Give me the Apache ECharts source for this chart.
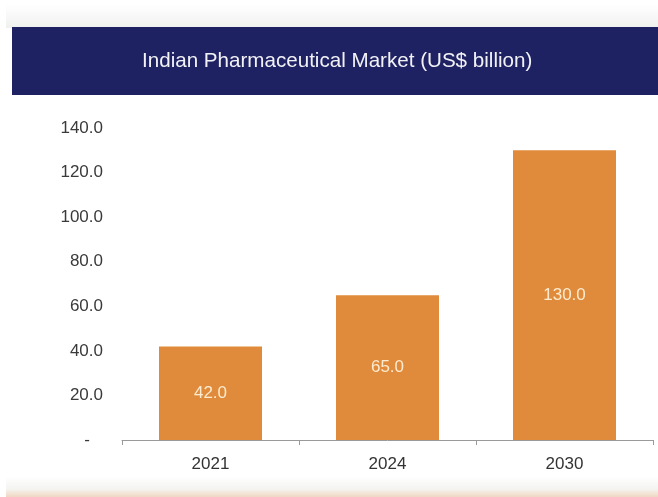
<!DOCTYPE html>
<html>
<head>
<meta charset="utf-8">
<script src="https://cdn.jsdelivr.net/npm/echarts@6/dist/echarts.min.js"></script>
<style>
  html, body { margin: 0; padding: 0; background: #ffffff; }
  #chart { width: 658px; height: 497px; }
</style>
</head>
<body>
<div id="chart"></div>
<script>
// Indian pharmaceutical market size by year
var chartTitle = 'Indian Pharmaceutical Market (US$ billion)';
var years = ['2021', '2024', '2030'];
var marketSize = [42.0, 65.0, 130.0];
var yTicks = [0, 20, 40, 60, 80, 100, 120, 140];

var chart = echarts.init(document.getElementById('chart'), null, { renderer: 'canvas' });

var option = {
  backgroundColor: '#ffffff',
  animation: false,
  graphic: [
    {
      type: 'rect', z: -1,
      shape: { x: 6, y: 4, width: 652, height: 24 },
      style: {
        fill: new echarts.graphic.LinearGradient(0, 0, 0, 1, [
          { offset: 0, color: '#ffffff' },
          { offset: 1, color: '#eff1ef' }
        ])
      }
    },
    {
      type: 'rect',
      shape: { x: 12, y: 27, width: 646, height: 68 },
      style: { fill: '#1f2262' }
    },
    {
      type: 'text',
      left: 142,
      top: 51,
      style: {
        text: chartTitle,
        fill: '#f2f2f6',
        font: '20.6px "Liberation Sans", Arial, sans-serif'
      }
    },
    {
      type: 'rect', z: -1,
      shape: { x: 6, y: 476, width: 652, height: 21 },
      style: {
        fill: new echarts.graphic.LinearGradient(0, 0, 0, 1, [
          { offset: 0, color: '#ffffff' },
          { offset: 0.6, color: '#f4f5f2' },
          { offset: 0.8, color: '#f3e6da' },
          { offset: 1, color: '#efd7c3' }
        ])
      }
    }
  ],
  grid: { left: 122, right: 5, top: 128, bottom: 57 },
  xAxis: {
    type: 'category',
    data: years,
    axisLine: { show: true, lineStyle: { color: '#9a9a9a', width: 1 } },
    axisTick: { show: true, alignWithLabel: false, length: 5, lineStyle: { color: '#9a9a9a' } },
    axisLabel: {
      color: '#333333', fontSize: 17, margin: 16,
      fontFamily: '"Liberation Sans", Arial, sans-serif'
    }
  },
  yAxis: {
    type: 'value',
    min: yTicks[0],
    max: yTicks[yTicks.length - 1],
    interval: 20,
    axisLine: { show: false },
    axisTick: { show: false },
    splitLine: { show: false },
    axisLabel: {
      color: '#3a3a3a', fontSize: 17, margin: 19,
      fontFamily: '"Liberation Sans", Arial, sans-serif',
      formatter: function (v) {
        return v === 0 ? '{z|-}' : v.toFixed(1);
      },
      rich: {
        z: { fontSize: 17, color: '#3a3a3a', padding: [0, 13, 0, 0] }
      }
    }
  },
  series: [{
    type: 'bar',
    data: marketSize,
    barWidth: 103,
    itemStyle: { color: '#e08b3b' },
    label: {
      show: true,
      position: 'inside',
      color: '#fcebcf',
      fontSize: 17,
      fontFamily: '"Liberation Sans", Arial, sans-serif',
      formatter: function (p) { return p.value.toFixed(1); }
    }
  }]
};

chart.setOption(option);
</script>
</body>
</html>
